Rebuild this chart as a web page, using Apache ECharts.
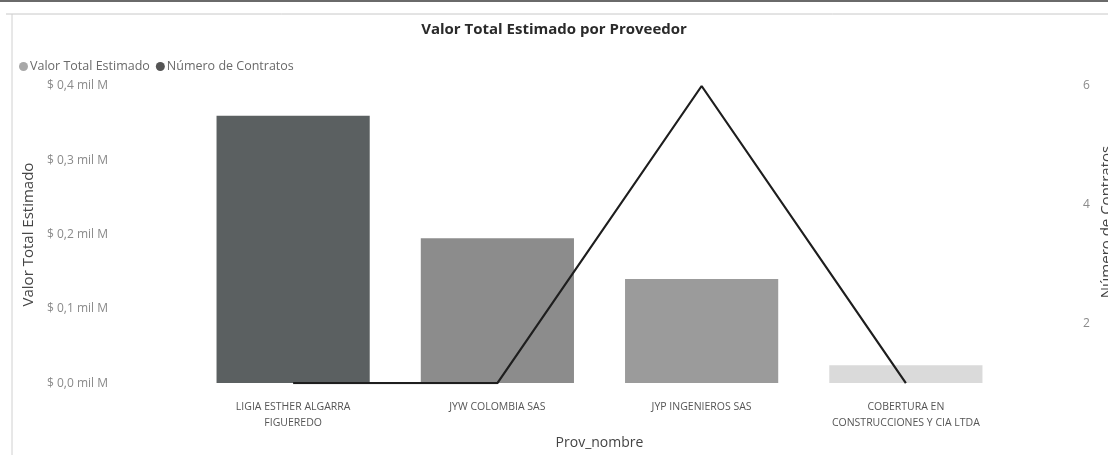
<!DOCTYPE html>
<html>
<head>
<meta charset="utf-8">
<script src="https://cdn.jsdelivr.net/npm/echarts@6/dist/echarts.min.js"></script>
<style>
  html, body { margin: 0; padding: 0; background: #fff; }
  #chart { width: 1108px; height: 455px; }
</style>
</head>
<body>
<div id="chart"></div>
<script>
// datos
var proveedores = ['LIGIA ESTHER ALGARRA\nFIGUEREDO', 'JYW COLOMBIA SAS', 'JYP INGENIEROS SAS', 'COBERTURA EN\nCONSTRUCCIONES Y CIA LTDA'];
var valorTotal = [0.36, 0.195, 0.14, 0.024]; // en mil M
var numContratos = [1, 1, 6, 1];
var barColors = ['#5b6061', '#8c8c8c', '#9b9b9b', '#dadada'];
var ticksDerecha = [2, 4, 6];

var font = "'Open Sans', 'Noto Sans', sans-serif";
var myChart = echarts.init(document.getElementById('chart'));
var option = {
  animation: false,
  textStyle: { fontFamily: font },
  title: {
    text: 'Valor Total Estimado por Proveedor',
    left: 'center',
    top: 17,
    textStyle: { fontSize: 15, fontWeight: 'bold', color: '#2a2a2a', fontFamily: font }
  },
  legend: {
    left: 14,
    top: 55,
    itemWidth: 9,
    itemHeight: 9,
    itemGap: 6,
    textStyle: { fontSize: 12.5, color: '#6a6a6a', padding: [0, 0, 0, -3] },
    data: [
      { name: 'Valor Total Estimado', icon: 'circle', itemStyle: { color: '#a8a8a8' } },
      { name: 'Número de Contratos', icon: 'circle', itemStyle: { color: '#555' } }
    ]
  },
  grid: {
    left: 191,
    right: 100,
    top: 86,
    bottom: 69
  },
  xAxis: {
    type: 'category',
    data: proveedores,
    name: 'Prov_nombre',
    nameLocation: 'middle',
    nameGap: 47,
    nameTextStyle: { fontSize: 14, color: '#444' },
    axisLine: { show: false },
    axisTick: { show: false },
    axisLabel: {
      interval: 0,
      fontSize: 10.5,
      color: '#555',
      lineHeight: 16,
      margin: 16
    }
  },
  yAxis: [{
    type: 'value',
    min: 0,
    max: 0.4,
    interval: 0.1,
    name: 'Valor Total Estimado',
    nameLocation: 'middle',
    nameGap: 155,
    nameRotate: 90,
    nameTextStyle: { fontSize: 15, color: '#444' },
    splitLine: { show: false },
    axisLine: { show: false },
    axisTick: { show: false },
    axisLabel: {
      align: 'left',
      margin: 144,
      fontSize: 12,
      color: '#8a8a8a',
      formatter: function (v) {
        return '$ ' + v.toFixed(1).replace('.', ',') + ' mil M';
      }
    }
  }, {
    type: 'value',
    min: 1,
    max: 6,
    splitLine: { show: false },
    axisLine: { show: false },
    axisTick: { show: false },
    axisLabel: {
      margin: 75,
      fontSize: 12,
      color: '#8a8a8a',
      customValues: ticksDerecha
    }
  }],
  series: [{
    name: 'Valor Total Estimado',
    type: 'bar',
    barWidth: '75%',
    data: valorTotal.map(function (v, i) {
      return { value: v, itemStyle: { color: barColors[i] } };
    })
  }, {
    name: 'Número de Contratos',
    type: 'line',
    yAxisIndex: 1,
    data: numContratos,
    symbol: 'none',
    lineStyle: { color: '#1e1e1e', width: 2.2 },
    itemStyle: { color: '#555' }
  }],
  graphic: [
    { type: 'line', shape: { x1: 0, y1: 1, x2: 1108, y2: 1 }, style: { stroke: '#6a6a6a', lineWidth: 2 } },
    { type: 'line', shape: { x1: 6, y1: 14, x2: 1108, y2: 14 }, style: { stroke: '#c8c8c8', lineWidth: 1 } },
    { type: 'line', shape: { x1: 12, y1: 14, x2: 12, y2: 455 }, style: { stroke: '#d0d0d0', lineWidth: 1 } },
    {
      type: 'text',
      x: 1107,
      y: 222,
      rotation: Math.PI / 2,
      style: {
        text: 'Número de Contratos',
        font: '15px ' + font,
        fill: '#444',
        align: 'center',
        verticalAlign: 'middle'
      }
    }
  ]
};
myChart.setOption(option);
window.onresize = myChart.resize;
</script>
</body>
</html>
